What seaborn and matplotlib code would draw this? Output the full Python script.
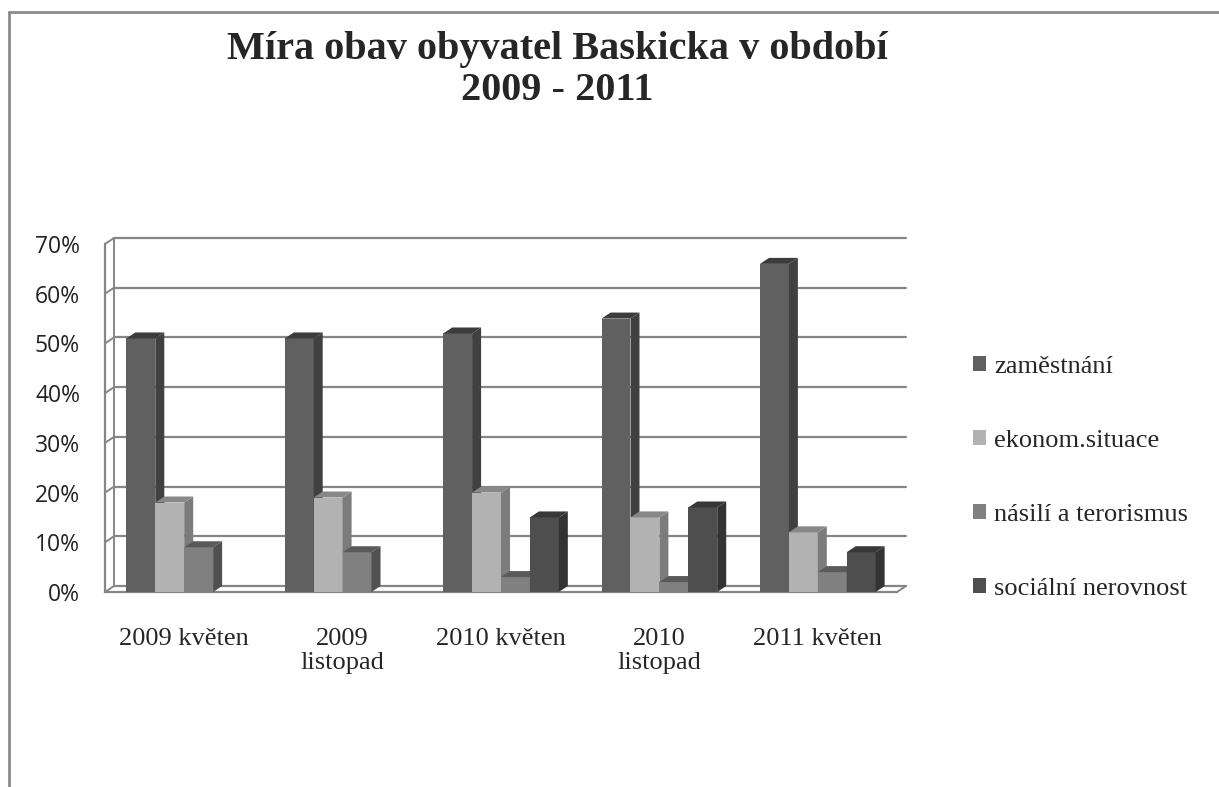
'''
Míra obav obyvatel Baskicka v období 2009 - 2011 (sloupcový graf s 3D efektem)
'''

import matplotlib
matplotlib.use('Agg')
import matplotlib.pyplot as plt
from matplotlib.patches import Polygon
from matplotlib.lines import Line2D
from matplotlib.transforms import IdentityTransform
import numpy as np
import pandas as pd
import seaborn as sns

# data (podíl v %)
obdobi = ['2009 květen', '2009 listopad', '2010 květen', '2010 listopad', '2011 květen']
oblasti = ['zaměstnání', 'ekonom.situace', 'násilí a terorismus', 'sociální nerovnost']
zamestnani = [51, 51, 52, 55, 66]
ekonom = [18, 19, 20, 15, 12]
nasili = [9, 8, 3, 2, 4]
socialni = [0, 0, 15, 17, 8]

# barvy: přední stěna, bok, vršek
barvy_predni = ['#606060', '#b2b2b2', '#808080', '#4e4e4e']
barvy_bok = ['#404040', '#7c7c7c', '#505050', '#333333']
barvy_vrsek = ['#3c3c3c', '#888888', '#5a5a5a', '#383838']
seda = '#868686'

df = pd.DataFrame({
    'obdobi': obdobi * 4,
    'oblast': np.repeat(oblasti, len(obdobi)),
    'podil': np.array(zamestnani + ekonom + nasili + socialni) / 100,
})

sns.set_style('white')

W, H = 1219, 787
fig = plt.figure(figsize=(W / 100, H / 100), dpi=100)
ax = fig.add_axes([105 / W, (H - 592) / H, 792 / W, 348 / H])

sns.barplot(data=df, x='obdobi', y='podil', hue='oblast',
            palette=barvy_predni, width=0.73, gap=0, saturation=1,
            errorbar=None, linewidth=0, ax=ax)

ax.set_xlim(-0.5, len(obdobi) - 0.5)
ax.set_ylim(0, 0.7)
ax.set_xlabel('')
ax.set_ylabel('')

# hloubka 3D efektu v pixelech
dx, dy = 9, 6
px = IdentityTransform()

def back(x, y):
    p = ax.transData.transform((x, y))
    return p[0] + dx, p[1] + dy

def front(x, y):
    return ax.transData.transform((x, y))

# zadní stěna - mřížka
hodnoty_y = np.arange(0, 0.71, 0.1)
for v in hodnoty_y:
    f = front(-0.5, v)
    b1 = back(-0.5, v)
    b2 = back(len(obdobi) - 0.5, v)
    ax.add_artist(Line2D([b1[0], b2[0]], [b1[1], b2[1]], transform=px,
                         color=seda, lw=1.6, zorder=1, clip_on=False))
    ax.add_artist(Line2D([f[0], b1[0]], [f[1], b1[1]], transform=px,
                         color=seda, lw=1.4, zorder=1, clip_on=False))
b0 = back(-0.5, 0)
bt = back(-0.5, 0.7)
ax.add_artist(Line2D([b0[0], bt[0]], [b0[1], bt[1]], transform=px,
                     color=seda, lw=1.4, zorder=1, clip_on=False))
f = front(len(obdobi) - 0.5, 0)
b = back(len(obdobi) - 0.5, 0)
ax.add_artist(Line2D([f[0], b[0]], [f[1], b[1]], transform=px,
                     color=seda, lw=1.4, zorder=1, clip_on=False))

# boky a vršky sloupců
for j, cont in enumerate(ax.containers):
    for bar in cont:
        h = bar.get_height()
        bar.set_zorder(10 + j * 3)
        if h <= 0:
            bar.set_visible(False)
            continue
        x0 = bar.get_x()
        x1 = x0 + bar.get_width()
        a = front(x1, 0)
        t = front(x1, h)
        tl = front(x0, h)
        bok = Polygon([a, (a[0] + dx, a[1] + dy), (t[0] + dx, t[1] + dy), t],
                      closed=True, transform=px, facecolor=barvy_bok[j],
                      edgecolor='none', zorder=11 + j * 3, clip_on=False)
        vrsek = Polygon([tl, (tl[0] + dx, tl[1] + dy), (t[0] + dx, t[1] + dy), t],
                        closed=True, transform=px, facecolor=barvy_vrsek[j],
                        edgecolor='none', zorder=12 + j * 3, clip_on=False)
        ax.add_patch(bok)
        ax.add_patch(vrsek)

# osy
for s in ['top', 'right']:
    ax.spines[s].set_visible(False)
for s in ['left', 'bottom']:
    ax.spines[s].set_color(seda)
    ax.spines[s].set_linewidth(1.6)
    ax.spines[s].set_zorder(5)

ax.set_yticks(hodnoty_y)
ax.set_yticklabels([f'{int(round(v * 100))}%' for v in hodnoty_y],
                   fontfamily='Open Sans', fontsize=16.5, color='#222222')
ax.tick_params(axis='y', length=5, width=1.4, color=seda, pad=13)

ax.set_xticks(range(len(obdobi)))
ax.set_xticklabels([o.replace(' listopad', '\nlistopad') for o in obdobi],
                   fontfamily='Liberation Serif', fontsize=19, linespacing=1.1)
ax.tick_params(axis='x', which='major', length=0, pad=26)
ax.set_xticks(np.arange(-0.5, len(obdobi), 1), minor=True)
ax.tick_params(axis='x', which='minor', length=6, width=1.4, color=seda)

# legenda
sns.move_legend(ax, 'center left', bbox_to_anchor=(960 / W, 1 - 478 / H),
                bbox_transform=fig.transFigure, frameon=False, title=None,
                borderpad=0, handlelength=0.5, handleheight=0.5,
                handletextpad=0.3, labelspacing=1.97,
                prop={'family': 'Liberation Serif', 'size': 19})

# nadpis
fig.text(557 / W, 1 - 70 / H, 'Míra obav obyvatel Baskicka v období\n2009 - 2011',
         ha='center', va='center', fontfamily='Liberation Serif',
         fontweight='bold', fontsize=29, linespacing=1.12)

# rámeček grafu
fig.add_artist(Line2D([9 / W, 1], [1 - 12 / H] * 2, transform=fig.transFigure,
                      color='#8c8c8c', lw=2))
fig.add_artist(Line2D([9 / W, 9 / W], [0, 1 - 12 / H], transform=fig.transFigure,
                      color='#8c8c8c', lw=2))

fig.savefig('out.png', dpi=100, facecolor='white')
